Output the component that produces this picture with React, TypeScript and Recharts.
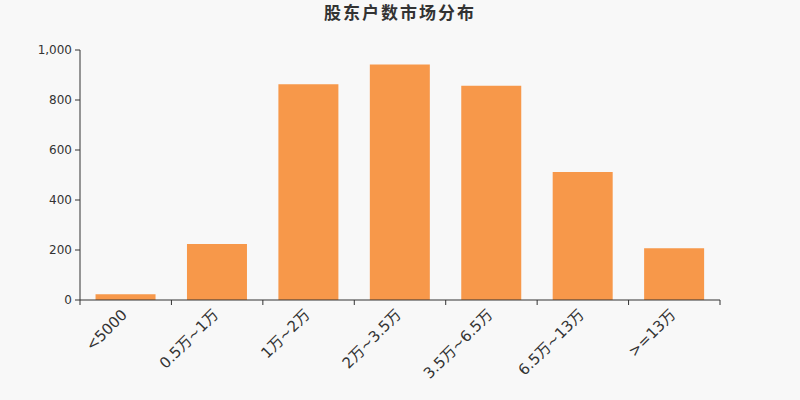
import { BarChart, Bar, XAxis, YAxis } from 'recharts';

const categories = ['<5000', '0.5万~1万', '1万~2万', '2万~3.5万', '3.5万~6.5万', '6.5万~13万', '>=13万'];
const holders = [23, 224, 863, 942, 857, 512, 207];
const yTicks = [0, 200, 400, 600, 800, 1000];

const data = categories.map((name, i) => ({ name, value: holders[i] }));

const FONT = '"DejaVu Sans", "Noto Sans CJK SC", sans-serif';

// category ticks sit between the bars, labels at the bar centre
function CategoryTick(props: any) {
  const { x, y, payload, index, visibleTicksCount } = props;
  const half = payload?.offset ?? 640 / 7 / 2;
  const axisY = y - 12;
  return (
    <g>
      <line x1={x - half} x2={x - half} y1={axisY} y2={axisY + 5} stroke="#333" />
      {index === visibleTicksCount - 1 && (
        <line x1={x + half} x2={x + half} y1={axisY} y2={axisY + 5} stroke="#333" />
      )}
      <text
        x={x - 1.5}
        y={y}
        dy="0.35em"
        textAnchor="end"
        fill="#333"
        fontSize={15}
        fontFamily={FONT}
        transform={`rotate(-45, ${x - 1.5}, ${y})`}
      >
        {payload.value}
      </text>
    </g>
  );
}

export default function App() {
  return (
    <div style={{ position: 'absolute', left: 0, top: 0, width: 800, height: 400, background: '#f8f8f8' }}>
      <div
        style={{
          position: 'absolute',
          top: -1,
          width: 800,
          textAlign: 'center',
          fontFamily: '"Noto Sans CJK SC", sans-serif',
          fontWeight: 'bold',
          fontSize: 17,
          letterSpacing: 2,
          color: '#333',
        }}
      >
        股东户数市场分布
      </div>
      <BarChart
        width={800}
        height={400}
        data={data}
        margin={{ top: 50, right: 80, left: 30, bottom: 10 }}
        barCategoryGap="17%"
      >
        <XAxis
          dataKey="name"
          interval={0}
          height={90}
          tickLine={false}
          tickSize={5}
          tickMargin={7}
          stroke="#333"
          tick={<CategoryTick />}
        />
        <YAxis
          width={50}
          domain={[0, 1000]}
          ticks={yTicks}
          tickSize={5}
          tickMargin={3}
          stroke="#333"
          tick={{ fill: '#333', fontSize: 12, fontFamily: FONT }}
          tickFormatter={(v) => v.toLocaleString('en-US')}
        />
        <Bar dataKey="value" fill="#f7984a" isAnimationActive={false} />
      </BarChart>
    </div>
  );
}
